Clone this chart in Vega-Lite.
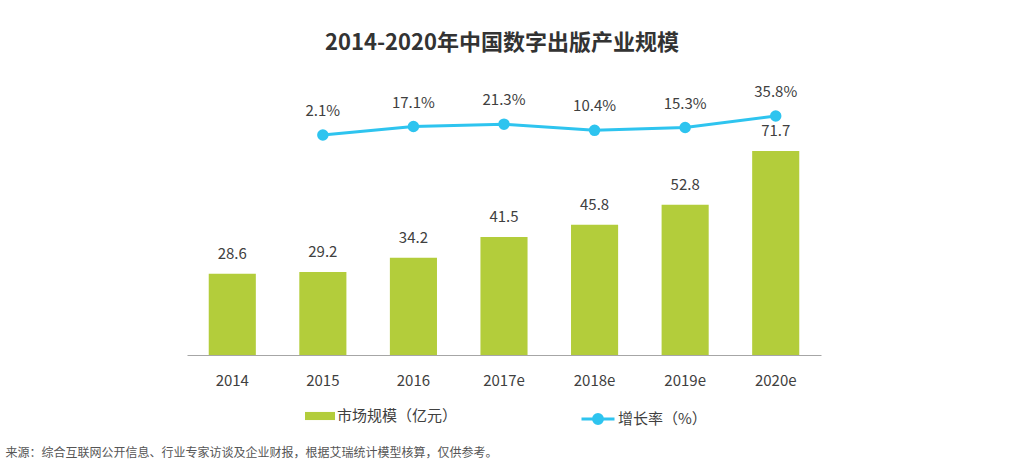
{
  "$schema": "https://vega.github.io/schema/vega-lite/v6.json",
  "autosize": {"type": "none"},
  "width": 634,
  "height": 300,
  "padding": {"left": 187, "top": 55, "right": 203, "bottom": 107},
  "background": "white",
  "title": {
    "text": "2014-2020年中国数字出版产业规模",
    "font": "Noto Sans CJK SC",
    "fontSize": 22,
    "fontWeight": "bold",
    "color": "#333333",
    "anchor": "middle",
    "baseline": "bottom",
    "offset": 6,
    "dx": -2,
    "dy": 28
  },
  "config": {
    "view": {"stroke": null},
    "font": "Noto Sans CJK SC"
  },
  "data": {
    "values": [
      {"year": "2014", "size": 28.6, "growth": null},
      {"year": "2015", "size": 29.2, "growth": 0.021},
      {"year": "2016", "size": 34.2, "growth": 0.171},
      {"year": "2017e", "size": 41.5, "growth": 0.213},
      {"year": "2018e", "size": 45.8, "growth": 0.104},
      {"year": "2019e", "size": 52.8, "growth": 0.153},
      {"year": "2020e", "size": 71.7, "growth": 0.358}
    ]
  },
  "encoding": {
    "x": {
      "field": "year",
      "type": "nominal",
      "sort": null,
      "scale": {"paddingInner": 0.48, "paddingOuter": 0.24},
      "axis": {
        "labelAngle": 0,
        "labelFont": "Noto Sans CJK SC",
        "labelFontSize": 15,
        "labelColor": "#404040",
        "labelPadding": 18,
        "ticks": false,
        "tickSize": 0,
        "domainColor": "#a6a6a6",
        "domainWidth": 1,
        "title": "来源：综合互联网公开信息、行业专家访谈及企业财报，根据艾瑞统计模型核算，仅供参考。",
        "titleFont": "Noto Sans CJK SC",
        "titleFontSize": 12,
        "titleFontWeight": "normal",
        "titleColor": "#555555",
        "titleAlign": "left",
        "titleAnchor": "start",
        "titleBaseline": "middle",
        "titleX": -182,
        "titleY": 97
      }
    }
  },
  "layer": [
    {
      "mark": {"type": "bar"},
      "encoding": {
        "y": {"field": "size", "type": "quantitative", "scale": {"domain": [0, 105.44], "nice": false, "zero": true}, "axis": null},
        "fill": {
          "datum": "市场规模（亿元）",
          "scale": {"range": ["#b3cd3b"]},
          "legend": {
            "orient": "none",
            "legendX": 118,
            "legendY": 346,
            "title": null,
            "padding": 0,
            "symbolType": "M-1,-0.27L1,-0.27L1,0.27L-1,0.27Z",
            "symbolSize": 900,
            "symbolStrokeWidth": 0,
            "labelFont": "Noto Sans CJK SC",
            "labelFontSize": 15,
            "labelColor": "#404040",
            "labelOffset": 2
          }
        }
      }
    },
    {
      "mark": {"type": "text", "baseline": "middle", "dy": -20, "fontSize": 15, "color": "#404040", "font": "Noto Sans CJK SC"},
      "encoding": {
        "y": {"field": "size", "type": "quantitative", "scale": {"domain": [0, 105.44], "nice": false, "zero": true}, "axis": null},
        "text": {"field": "size", "type": "quantitative", "format": ".1f"}
      }
    },
    {
      "transform": [{"filter": {"field": "growth", "valid": true}}],
      "mark": {"type": "line", "strokeWidth": 3, "point": {"filled": true, "size": 90, "color": "#2ec4ef"}},
      "encoding": {
        "y": {"field": "growth", "type": "quantitative", "scale": {"domain": [-3.881, 1.44], "nice": false, "zero": false}, "axis": null},
        "stroke": {
          "datum": "增长率（%）",
          "scale": {"range": ["#2ec4ef"]},
          "legend": {
            "orient": "none",
            "legendX": 393,
            "legendY": 346,
            "title": null,
            "padding": 0,
            "symbolType": "M-1,0L1,0M-0.27,0A0.27,0.27,0,1,1,0.27,0A0.27,0.27,0,1,1,-0.27,0Z",
            "symbolSize": 1089,
            "symbolStrokeWidth": 3,
            "symbolFillColor": "#2ec4ef",
            "labelFont": "Noto Sans CJK SC",
            "labelFontSize": 15,
            "labelColor": "#404040",
            "labelOffset": 2,
            "encode": {"symbols": {"update": {"fill": {"value": "#2ec4ef"}}}}
          }
        }
      }
    },
    {
      "transform": [{"filter": {"field": "growth", "valid": true}}],
      "mark": {"type": "text", "baseline": "middle", "dy": -24, "fontSize": 15, "color": "#404040", "font": "Noto Sans CJK SC"},
      "encoding": {
        "y": {"field": "growth", "type": "quantitative", "scale": {"domain": [-3.881, 1.44], "nice": false, "zero": false}, "axis": null},
        "text": {"field": "growth", "type": "quantitative", "format": ".1%"}
      }
    }
  ],
  "resolve": {"scale": {"y": "independent"}}
}
